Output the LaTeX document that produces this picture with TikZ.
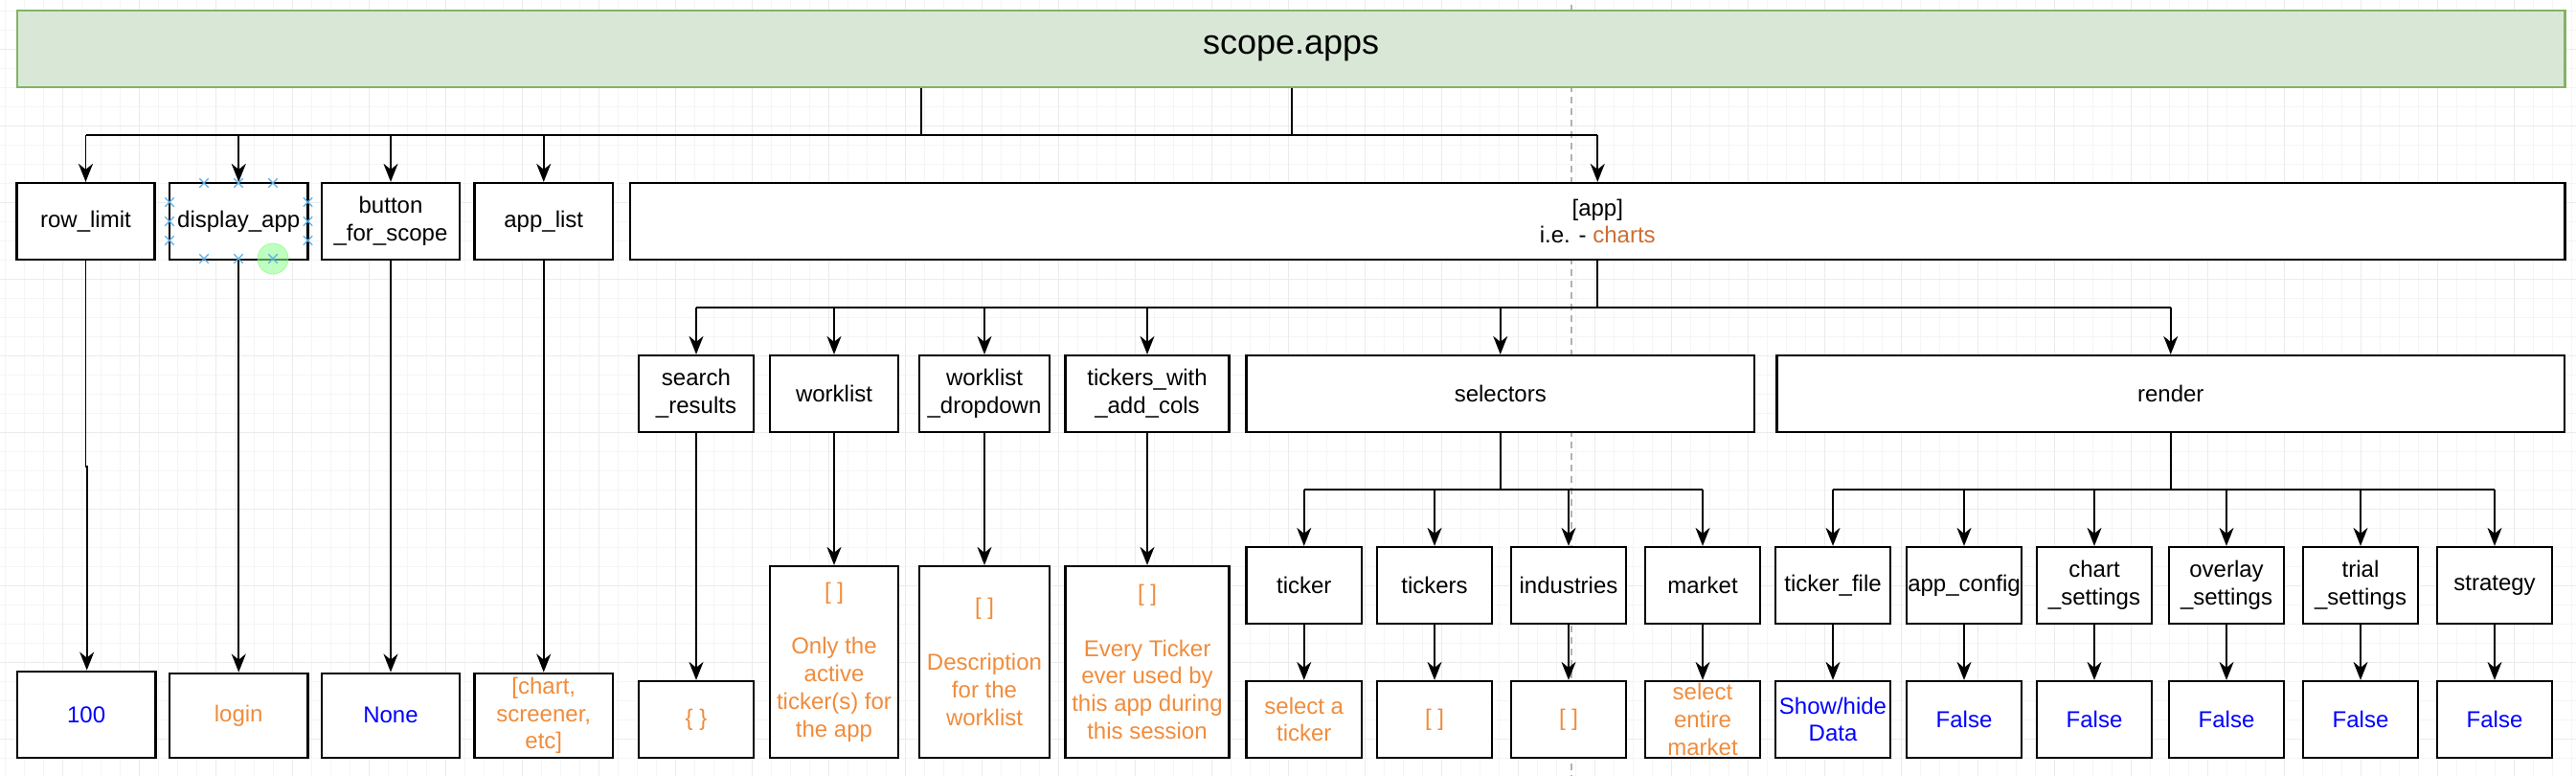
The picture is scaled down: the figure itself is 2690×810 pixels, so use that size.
\documentclass[tikz,border=0pt]{standalone}
\usepackage{fontspec}
\setmainfont{Liberation Sans}
\usetikzlibrary{arrows.meta,shapes.misc}
\definecolor{vorange}{HTML}{F08C3C}
\definecolor{vblue}{HTML}{0000FF}
\definecolor{cbrown}{HTML}{CC6E33}
\definecolor{gfill}{HTML}{D9E8D6}
\definecolor{gline}{HTML}{82B366}
\definecolor{selblue}{HTML}{5AAEE6}
\newcommand\fs{\fontsize{24}{28.8}\selectfont}
\newcommand\bx[7][]{%
  \pgfmathsetmacro\bw{#5-#3}\pgfmathsetmacro\bh{#6-#4}%
  \pgfmathsetmacro\bcx{(#3+#5)/2}\pgfmathsetmacro\bcy{-(#4+#6)/2}%
  \node[box,minimum width=\bw pt,minimum height=\bh pt,#1] (#2) at (\bcx pt,\bcy pt) {#7};}
\tikzset{
  box/.style={draw=black,line width=2.2pt,fill=white,inner sep=0pt,align=center,font=\fs},
  orange/.style={text=vorange},
  blue/.style={text=vblue},
  conn/.style={draw=black,line width=1.9pt},
  arr/.style={conn,-{Stealth[length=19pt,width=15pt,inset=6pt]}},
  gminor/.style={draw=black!4,line width=0.8pt},
  gmajor/.style={draw=black!8,line width=0.9pt},
  dashline/.style={draw=black!30,line width=1.2pt,dash pattern=on 7pt off 5pt},
  selmark/.style={draw=selblue,cross out,minimum size=8pt,inner sep=0pt,line width=1.3pt},
}
\begin{document}
\begin{tikzpicture}[x=1pt,y=1pt]
\useasboundingbox (0,0) rectangle (2690,-810);
\fill[white] (0,0) rectangle (2690,-810);
% background grid
\draw[gminor,step=20pt,shift={(5pt,-11pt)}] (-5,11) grid (2685,-799);
\draw[gmajor,step=80pt,shift={(65pt,-51pt)}] (-65,51) grid (2625,-759);
% dashed guide
\draw[dashline] (1641,-5) -- (1641,-810);
% root
\bx[draw=gline,fill=gfill,line width=2.2pt,font=\fontsize{36}{43}\selectfont]{scope}{17.8}{11}{2678.5}{90.7}{scope.apps}
% level 1
\bx{rowlimit}{17.5}{191}{161.5}{271}{row\_limit}
\bx{displayapp}{177}{191}{321.5}{271}{display\_app}
\bx{button}{336}{191}{480}{271}{button\\\_for\_scope}
\bx{applist}{495.5}{191}{640}{271}{app\_list}
\bx{app}{658}{191}{2678.5}{271}{[app]\\i.e. - \textcolor{cbrown}{charts}}
% level 1 values
\bx[blue]{v100}{17.8}{700.7}{162.5}{791}{100}
\bx[orange]{vlogin}{177}{702.7}{321.5}{791}{login}
\bx[blue]{vnone}{336}{702.7}{480}{791}{None}
\bx[orange]{vlist}{495.5}{702.7}{640}{791}{[chart,\\screener,\\etc]}
% level 2
\bx{search}{667}{371}{787}{451}{search\\\_results}
\bx{worklist}{804}{371}{938}{451}{worklist}
\bx{dropdown}{960}{371}{1096}{451}{worklist\\\_dropdown}
\bx{tickcols}{1112.5}{371}{1283.5}{451}{tickers\_with\\\_add\_cols}
\bx{selectors}{1301.5}{371}{1832}{451}{selectors}
\bx{render}{1855.5}{371}{2678}{451}{render}
% level 2 values
\bx[orange]{vsearch}{667}{711}{787}{791}{\{ \}}
\bx[orange]{vwork}{804}{591}{938}{791}{[ ]\\[28.8pt]Only the\\active\\ticker(s) for\\the app}
\bx[orange]{vdrop}{960}{591}{1096}{791}{[ ]\\[28.8pt]Description\\for the\\worklist}
\bx[orange]{vtick}{1112.5}{591}{1283.5}{791}{[ ]\\[28.8pt]Every Ticker\\ever used by\\this app during\\this session}
% level 3
\bx{ticker}{1301.5}{571}{1422}{651}{ticker}
\bx{tickers}{1438}{571}{1558}{651}{tickers}
\bx{industries}{1578}{571}{1698}{651}{industries}
\bx{market}{1718}{571}{1838}{651}{market}
\bx{tickerfile}{1854}{571}{1974}{651}{ticker\_file}
\bx{appconfig}{1991}{571}{2111}{651}{app\_config}
\bx{chartset}{2127}{571}{2247}{651}{chart\\\_settings}
\bx{overlay}{2265}{571}{2385}{651}{overlay\\\_settings}
\bx{trial}{2405}{571}{2525}{651}{trial\\\_settings}
\bx{strategy}{2545}{571}{2665}{651}{strategy}
% level 3 values
\bx[orange]{vticker}{1301.5}{711}{1422}{791}{select a\\ticker}
\bx[orange]{vtickers}{1438}{711}{1558}{791}{[ ]}
\bx[orange]{vind}{1578}{711}{1698}{791}{[ ]}
\bx[orange]{vmarket}{1718}{711}{1838}{791}{select\\entire\\market}
\bx[blue]{vtfile}{1854}{711}{1974}{791}{Show/hide\\Data}
\bx[blue]{vappconfig}{1991}{711}{2111}{791}{False}
\bx[blue]{vchartset}{2127}{711}{2247}{791}{False}
\bx[blue]{voverlay}{2265}{711}{2385}{791}{False}
\bx[blue]{vtrial}{2405}{711}{2525}{791}{False}
\bx[blue]{vstrategy}{2545}{711}{2665}{791}{False}
% connectors level 1
\coordinate (j1) at (962,-141);
\coordinate (j2) at (1349,-141);
\draw[conn] (scope.south -| j1) -- (j1);
\draw[conn] (scope.south -| j2) -- (j2);
\draw[conn] (rowlimit.north |- j1) -- (app.north |- j1);
\foreach \n in {rowlimit,displayapp,button,applist,app}
  \draw[arr] (\n.north |- j1) -- (\n.north);
\coordinate (rj) at (90.7,-486.7);
\draw[arr] (rowlimit.south) |- (rj) -- (rj |- v100.north);
\draw[arr] (displayapp.south) -- (vlogin.north);
\draw[arr] (button.south) -- (vnone.north);
\draw[arr] (applist.south) -- (vlist.north);
% connectors level 2
\coordinate (j3) at (1668,-320.7);
\draw[conn] (app.south) -- (app.south |- j3);
\draw[conn] (search.north |- j3) -- (render.north |- j3);
\foreach \n in {search,worklist,dropdown,tickcols,selectors,render}
  \draw[arr] (\n.north |- j3) -- (\n.north);
\draw[arr] (search.south) -- (vsearch.north);
\draw[arr] (worklist.south) -- (vwork.north);
\draw[arr] (dropdown.south) -- (vdrop.north);
\draw[arr] (tickcols.south) -- (vtick.north);
% connectors level 3
\coordinate (j4) at (0,-510.7);
\draw[conn] (selectors.south) -- (selectors.south |- j4);
\draw[conn] (ticker.north |- j4) -- (market.north |- j4);
\foreach \n in {ticker,tickers,industries,market}
  \draw[arr] (\n.north |- j4) -- (\n.north);
\draw[conn] (render.south) -- (render.south |- j4);
\draw[conn] (tickerfile.north |- j4) -- (strategy.north |- j4);
\foreach \n in {tickerfile,appconfig,chartset,overlay,trial,strategy}
  \draw[arr] (\n.north |- j4) -- (\n.north);
\draw[arr] (ticker.south) -- (vticker.north);
\draw[arr] (tickers.south) -- (vtickers.north);
\draw[arr] (industries.south) -- (vind.north);
\draw[arr] (market.south) -- (vmarket.north);
\draw[arr] (tickerfile.south) -- (vtfile.north);
\draw[arr] (appconfig.south) -- (vappconfig.north);
\draw[arr] (chartset.south) -- (vchartset.north);
\draw[arr] (overlay.south) -- (voverlay.north);
\draw[arr] (trial.south) -- (vtrial.north);
\draw[arr] (strategy.south) -- (vstrategy.north);
% selection handles on display_app
\fill[green!45!white,opacity=0.55] (285,-270) circle (16);
\draw[green!55!white,opacity=0.6,line width=0.8pt] (285,-270) circle (16);
\foreach \p in {(213,-191),(249,-191),(285,-191),(213,-270),(249,-270),(285,-270),
  (177,-211),(177,-231),(177,-251),(321.5,-211),(321.5,-231),(321.5,-251)}
  \node[selmark] at \p {};
\end{tikzpicture}
\end{document}
